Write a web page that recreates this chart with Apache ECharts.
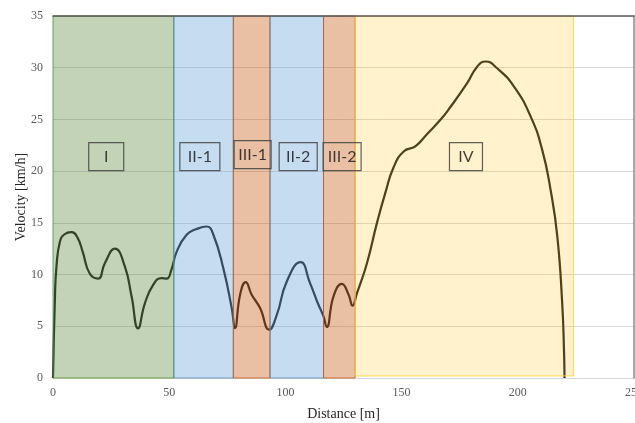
<!DOCTYPE html>
<html>
<head>
<meta charset="utf-8">
<script src="https://cdn.jsdelivr.net/npm/echarts@6/dist/echarts.min.js"></script>
<style>
  html, body { margin: 0; padding: 0; background: #fff; }
  #chart { width: 635px; height: 423px; }
</style>
</head>
<body>
<div id="chart"></div>
<script>
// Velocity profile along the run, sampled [distance m, velocity km/h]
const distance = [0, 0.8, 1.5, 3, 5, 7.9, 10.5, 12.9, 15.8, 19.4, 22.3, 26.6, 30.9, 33.8, 36.6, 39.5, 43.1, 46.7, 48.9, 51,
  53.2, 57.5, 61.8, 66.1, 69, 73.3, 76.9, 78.3, 80.5, 82.9, 85.5, 89.1, 93, 96.3, 100.6, 106.5,
  110.6, 114, 116.4, 117.8, 120.7, 124.3, 127.2, 128.9, 130.8, 135.1, 139.4, 143, 146.6, 150.9, 155.9,
  161, 166.7, 171, 178.2, 182.5, 186.1, 191.1, 198.3, 205.5, 210.5, 214.1, 217, 219.1, 219.9, 220.1];
const velocity = [0, 7.5, 10.8, 13.2, 13.9, 14.1, 13.6, 12.1, 10.1, 9.6, 11.1, 12.5, 10.8, 7.9, 4.8, 7.2, 9.0, 9.66, 9.6, 10.5,
  12.2, 13.85, 14.4, 14.65, 13.85, 10.6, 6.76, 4.83, 8.05, 9.27, 8.05, 6.76, 4.67, 6.1, 9.33, 11.2,
  9.18, 7.2, 5.95, 4.93, 7.9, 9.1, 8.05, 6.99, 8.2, 11.1, 15.0, 17.9, 20.4, 21.9, 22.4,
  23.6, 24.96, 26.2, 28.5, 30.1, 30.6, 29.95, 28.2, 25.3, 22.06, 18.2, 13.7, 7.25, 2.5, 0];

// Phase segments along the distance axis
const phaseNames = ['I', 'II-1', 'III-1', 'II-2', 'III-2', 'IV'];
const phaseStart = [0, 52, 77.6, 93.4, 116.4, 130];
const phaseEnd = [52, 77.6, 93.4, 116.4, 130, 224];
const phaseKind = ['I', 'II', 'III', 'II', 'III', 'IV'];

// Phase label anchor points [distance, velocity]
const labelX = [22.9, 63.2, 85.9, 105.5, 124.4, 177.7];
const labelY = [21.4, 21.4, 21.6, 21.4, 21.4, 21.4];

const xTicks = [0, 50, 100, 150, 200, 250];
const yTicks = [0, 5, 10, 15, 20, 25, 30, 35];

const kindStyle = {
  I:   { fill: 'rgba(84,130,53,0.35)',  border: 'rgba(84,150,53,0.85)' },
  II:  { fill: 'rgba(91,155,213,0.35)', border: 'rgba(80,130,180,0.75)' },
  III: { fill: 'rgba(197,90,17,0.38)',  border: 'rgba(190,90,30,0.85)' },
  IV:  { fill: 'rgba(255,192,0,0.20)',  border: 'rgba(255,210,80,0.9)' }
};
// outer width of each label box
const boxWidth = [35, 40, 37, 38, 38, 33];

const curve = distance.map((d, i) => [d, velocity[i]]);

const areas = phaseNames.map((n, i) => {
  const s = kindStyle[phaseKind[i]];
  return [
    { xAxis: phaseStart[i], yAxis: i === 5 ? 35.15 : 35,
      itemStyle: { color: s.fill, borderColor: s.border, borderWidth: 1 } },
    { xAxis: phaseEnd[i], yAxis: i === 5 ? 0.2 : 0 }
  ];
});

const labels = phaseNames.map((n, i) => ({
  name: n,
  value: [labelX[i], labelY[i]],
  label: { width: boxWidth[i] - 8 }
}));

const serif = '"Liberation Serif", "Times New Roman", serif';
const chart = echarts.init(document.getElementById('chart'), null, { renderer: 'canvas' });

chart.setOption({
  animation: false,
  backgroundColor: '#ffffff',
  grid: { left: 53, right: 1, top: 16, bottom: 45, containLabel: false, outerBoundsMode: 'none' },
  xAxis: [{
    type: 'value', min: 0, max: 250, interval: 50,
    name: 'Distance [m]', nameLocation: 'middle', nameGap: 29,
    nameTextStyle: { fontFamily: serif, fontSize: 14, color: '#262626' },
    axisLine: { show: true, onZero: false, lineStyle: { color: '#d9d9d9', width: 1 } },
    axisTick: { show: false },
    axisLabel: { fontFamily: serif, fontSize: 12, color: '#595959', margin: 9,
      formatter: v => xTicks.includes(v) ? String(v) : '' },
    splitLine: { show: false }
  }, {
    type: 'value', min: 0, max: 250, position: 'top', z: 10,
    axisLine: { show: true, onZero: false, lineStyle: { color: '#5a5a5a', width: 1.5 } },
    axisTick: { show: false }, axisLabel: { show: false }, splitLine: { show: false }
  }],
  yAxis: [{
    type: 'value', min: 0, max: 35, interval: 5,
    name: 'Velocity [km/h]', nameLocation: 'middle', nameGap: 25, nameRotate: 90,
    nameMoveOverlap: false,
    nameTextStyle: { fontFamily: serif, fontSize: 14, color: '#262626' },
    axisLine: { show: false },
    axisTick: { show: false },
    axisLabel: { fontFamily: serif, fontSize: 12, color: '#595959', margin: 10,
      formatter: v => yTicks.includes(v) ? String(v) : '' },
    splitLine: { show: true, lineStyle: { color: '#d9d9d9', width: 1 } }
  }, {
    type: 'value', min: 0, max: 35, position: 'right', z: 10,
    axisLine: { show: true, onZero: false, lineStyle: { color: '#8a8a8a', width: 1.5 } },
    axisTick: { show: false }, axisLabel: { show: false }, splitLine: { show: false }
  }],
  series: [
    {
      name: 'Velocity',
      type: 'line',
      data: curve,
      smooth: 0.5,
      showSymbol: false,
      symbol: 'none',
      lineStyle: { color: '#222222', width: 2.2 },
      z: 2
    },
    {
      name: 'Phases',
      type: 'line',
      data: curve,
      showSymbol: false,
      symbol: 'none',
      lineStyle: { width: 0, opacity: 0 },
      silent: true,
      z: 3,
      markArea: { silent: true, z: 4, data: areas }
    },
    {
      name: 'Phase labels',
      type: 'scatter',
      data: labels,
      symbolSize: 0,
      z: 6,
      label: {
        show: true,
        position: 'inside',
        formatter: p => p.name,
        fontFamily: 'Lato, "Open Sans", sans-serif',
        fontSize: 16,
        lineHeight: 18,
        align: 'center',
        color: '#111111',
        borderColor: '#3a3a3a',
        borderWidth: 1.2,
        padding: [6, 4, 4, 4]
      }
    }
  ]
});
</script>
</body>
</html>
